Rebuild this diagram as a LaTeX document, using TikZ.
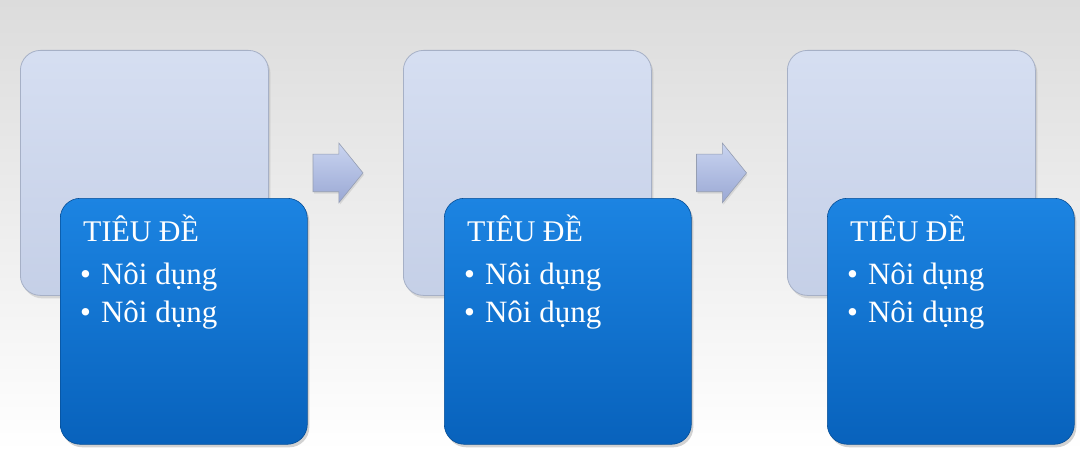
\documentclass[tikz,border=0pt]{standalone}
\usepackage{fontspec}
\setmainfont{Liberation Serif}
\usepackage{tikz}
\usetikzlibrary{calc,shapes.arrows,shadows}
\definecolor{fondhaut}{HTML}{DCDCDC}
\definecolor{pale}{HTML}{CBD6EE}
\definecolor{palebord}{HTML}{A6B0C6}
\definecolor{bleuhaut}{HTML}{1C84E2}
\definecolor{bleubas}{HTML}{0862BC}
\definecolor{flechehaut}{HTML}{C9D4F0}
\definecolor{flechebas}{HTML}{9AA8D4}
\tikzstyle{fond} = [rectangle, draw=palebord, line width=0.8pt, rounded corners=20pt, top color=pale!80!white, bottom color=pale!97!black, minimum width=248pt, minimum height=245pt, inner sep=0pt, drop shadow={shadow xshift=2pt, shadow yshift=-3pt, opacity=0.25}]
\tikzstyle{bleu} = [rectangle, draw=bleubas!80!black, line width=0.6pt, rounded corners=20pt, top color=bleuhaut, bottom color=bleubas, minimum width=247pt, minimum height=246pt, inner sep=0pt, drop shadow={shadow xshift=2pt, shadow yshift=-3pt, opacity=0.35}]
\tikzstyle{texte} = [anchor=north west, inner sep=0pt, align=left, text=white, font=\fontsize{31}{38}\selectfont]
\tikzstyle{fleche} = [single arrow, draw=palebord!90!black, line width=0.6pt, top color=flechehaut, bottom color=flechebas, inner xsep=0pt, inner ysep=18.5pt, minimum height=50pt, single arrow head extend=11pt, single arrow tip angle=102, drop shadow={shadow xshift=1pt, shadow yshift=-2pt, opacity=0.2}]

\begin{document}
\begin{tikzpicture}[x=1pt,y=-1pt]

        %% background
        \fill[top color=fondhaut, bottom color=white] (0,0) rectangle (1080,452);
        \useasboundingbox (0,0) rectangle (1080,452);

        %% step 1
        \node (F1) [fond, anchor=north west] at (20,50) {};
        \node (B1) [bleu, anchor=north west] at (60,198) {};
        \node (T1) [texte] at ($(B1.north west) + (20,17)$) {\hspace*{3pt}{\fontsize{30}{38}\selectfont TIÊU ĐỀ}\\[5pt]
            •\hspace{10pt}Nôi dụng\\
            •\hspace{10pt}Nôi dụng};

        %% step 2
        \node (F2) [fond, anchor=north west] at (403,50) {};
        \node (B2) [bleu, anchor=north west] at (444,198) {};
        \node (T2) [texte] at ($(B2.north west) + (20,17)$) {\hspace*{3pt}{\fontsize{30}{38}\selectfont TIÊU ĐỀ}\\[5pt]
            •\hspace{10pt}Nôi dụng\\
            •\hspace{10pt}Nôi dụng};

        %% step 3
        \node (F3) [fond, anchor=north west] at (787,50) {};
        \node (B3) [bleu, anchor=north west] at (827,198) {};
        \node (T3) [texte] at ($(B3.north west) + (20,17)$) {\hspace*{3pt}{\fontsize{30}{38}\selectfont TIÊU ĐỀ}\\[5pt]
            •\hspace{10pt}Nôi dụng\\
            •\hspace{10pt}Nôi dụng};

        %% arrows
        \node (A1) [fleche] at ($(F1.east)!0.5!(F2.west) + (-5.5,0)$) {};
        \node (A2) [fleche] at ($(F2.east)!0.5!(F3.west) + (-5.5,0)$) {};

    \end{tikzpicture}
\end{document}
